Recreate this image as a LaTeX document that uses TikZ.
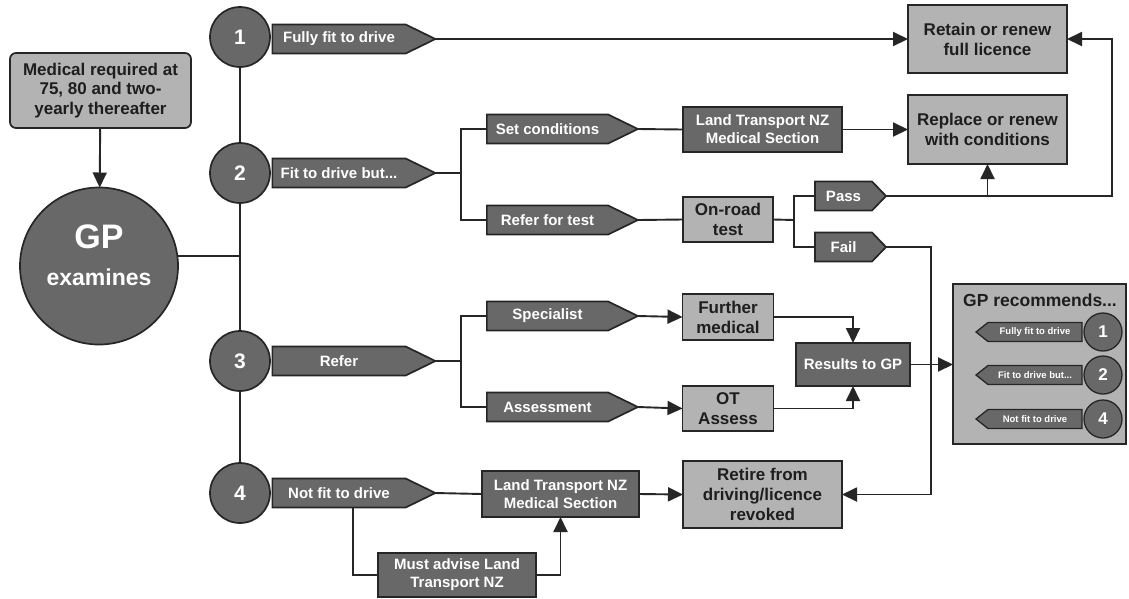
\documentclass[tikz,border=0pt]{standalone}
\usepackage{fontspec}
\setmainfont{Liberation Sans}
\usetikzlibrary{shapes.geometric,shapes.symbols,arrows.meta}
\definecolor{dkfill}{HTML}{686868}
\definecolor{ltfill}{HTML}{B3B3B3}
\definecolor{edge}{HTML}{262626}
\definecolor{ink}{HTML}{1E1E1E}
\newcommand{\fsz}[2]{\fontsize{#1}{#2}\selectfont\bfseries}
\tikzset{
  every node/.style={inner sep=0pt, outer sep=0pt},
  wire/.style={draw=edge, line width=1.9pt},
  arr/.style={wire, -{Triangle[length=15pt,width=14pt]}},
  darkbox/.style={rectangle, draw=edge, line width=1.7pt, fill=dkfill, text=white, align=center, font=\fsz{15}{18}},
  lightbox/.style={rectangle, draw=edge, line width=1.7pt, fill=ltfill, text=ink, align=center, font=\fsz{17}{20}},
  numdisc/.style={circle, draw=edge, line width=1.7pt, fill=dkfill, text=white, minimum size=60pt, font=\fsz{21}{24}},
  tagshape/.style={signal, signal to=east, draw=edge, line width=1.7pt, fill=dkfill, text=white, font=\fsz{15}{18}, minimum height=29pt},
  longtag/.style={tagshape, signal pointer angle=52, minimum width=163pt},
  midtag/.style={tagshape, signal pointer angle=52, minimum width=151pt},
  shorttag/.style={tagshape, signal pointer angle=92, minimum width=71pt},
  minitag/.style={signal, signal to=west, draw=edge, line width=1.3pt, fill=dkfill, text=white, font=\fsz{9.5}{11}, minimum height=19pt, minimum width=106pt, signal pointer angle=77},
  minidisc/.style={circle, draw=edge, line width=1.3pt, fill=dkfill, text=white, minimum size=38pt, font=\fsz{17}{20}},
}
\begin{document}
\begin{tikzpicture}[x=1pt,y=-1pt]
\useasboundingbox (0,0) rectangle (1129,598);
\fill[white] (0,0) rectangle (1129,598);

% entry point
\node[lightbox, rounded corners=6pt, minimum width=181pt, minimum height=75pt, font=\fsz{17}{19.5}] (med) at (100.5,90.5) {Medical required at\\75, 80 and two-\\yearly thereafter};
\node[ellipse, draw=edge, line width=1.7pt, fill=dkfill, minimum width=158pt, minimum height=157pt] (gp) at (99,266) {};
\node[text=white, font=\fsz{34}{36}] (gpa) at (99,237) {GP};
\node[text=white, font=\fsz{23}{26}] (gpb) at (99,277) {examines};

% outcome discs
\node[numdisc] (c1) at (240,37) {1};
\node[numdisc] (c2) at (240,173) {2};
\node[numdisc] (c3) at (240,361) {3};
\node[numdisc] (c4) at (240,493) {4};

% outcome tags
\node[longtag] (t1) at (339,39) {Fully fit to drive};
\node[longtag] (t2) at (339,173) {Fit to drive but...};
\node[longtag] (t3) at (339,361) {Refer};
\node[longtag] (t4) at (339,493) {Not fit to drive};

% second level tags
\node[midtag] (setc) at (547.5,129) {Set conditions};
\node[midtag] (rft) at (547.5,220) {Refer for test};
\node[midtag] (spec) at (547.5,316) {Specialist};
\node[midtag] (asmt) at (547.5,407) {Assessment};
\node[shorttag] (pass) at (843.5,196) {Pass};
\node[shorttag] (fail) at (843.5,247) {Fail};

% boxes
\node[lightbox, minimum width=159pt, minimum height=68pt] (retain) at (987.5,39) {Retain or renew\\full licence};
\node[lightbox, minimum width=159pt, minimum height=69pt] (replace) at (987.5,129.5) {Replace or renew\\with conditions};
\node[darkbox, minimum width=159pt, minimum height=45pt] (lt1) at (762.5,129.5) {Land Transport NZ\\Medical Section};
\node[lightbox, minimum width=90pt, minimum height=45pt] (road) at (728,219.5) {On-road\\test};
\node[lightbox, minimum width=91pt, minimum height=46pt] (furth) at (728,317) {Further\\medical};
\node[lightbox, minimum width=91pt, minimum height=45pt] (ot) at (728,408.5) {OT\\Assess};
\node[darkbox, minimum width=114pt, minimum height=43pt] (res) at (853,364.5) {Results to GP};
\node[lightbox, minimum width=159pt, minimum height=67pt] (retire) at (762.5,494.5) {Retire from\\driving/licence\\revoked};
\node[darkbox, minimum width=157pt, minimum height=46pt] (lt2) at (560.5,494) {Land Transport NZ\\Medical Section};
\node[darkbox, minimum width=158pt, minimum height=44pt] (must) at (457,575) {Must advise Land\\Transport NZ};

% recommendation panel
\node[rectangle, draw=edge, line width=1.7pt, fill=ltfill, minimum width=173pt, minimum height=160pt] (rec) at (1039.5,364) {};
\node[text=ink, font=\fsz{17.5}{20}] (rect) at (1040,300) {GP recommends...};
\node[minitag] (m1) at (1035,332) {Fully fit to drive};
\node[minitag] (m2) at (1035,375) {Fit to drive but...};
\node[minitag] (m4) at (1035,419) {Not fit to drive};
\node[minidisc] (d1) at (1103,332) {1};
\node[minidisc] (d2) at (1103,375) {2};
\node[minidisc] (d4) at (1103,419) {4};

% junction points
\coordinate (j2) at (461,173);
\coordinate (j3) at (461,361);
\coordinate (jr) at (794,220);
\coordinate (rx) at (1112,0);
\coordinate (fx) at (931,0);
\coordinate (nb) at (353,507.5);

% connectors
\draw[arr] (med) -- (gp);
\draw[wire] (gp.7) -- (gp.7 -| c1);
\draw[wire] (c1) -- (c2);
\draw[wire] (c2) -- (c3);
\draw[wire] (c3) -- (c4);

\draw[arr] (t1.east) -- (retain.west);

\draw[wire] (t2.east) -- (j2);
\draw[wire] (setc.west) -| (j2) |- (rft.west);
\draw[wire] (setc.east) -- (lt1.west);
\draw[arr] (lt1.east) -- (replace.west);
\draw[wire] (rft.east) -- (road.west);
\draw[wire] (road.east) -- (jr);
\draw[wire] (pass.west) -| (jr) |- (fail.west);
\draw[arr] (pass.east) -- (pass.east -| rx) |- (retain.east);
\draw[arr] (pass.east -| replace.south) -- (replace.south);
\draw[arr] (fail.east) -- (fail.east -| fx) |- (retire.east);

\draw[wire] (t3.east) -- (j3);
\draw[wire] (spec.west) -| (j3) |- (asmt.west);
\draw[arr] (spec.east) -- (furth.west);
\draw[arr] (asmt.east) -- (ot.west);
\draw[arr] (furth.east) -| (res.north);
\draw[arr] (ot.east) -| (res.south);
\draw[arr] (res.east) -- (rec.west |- res.east);

\draw[wire] (t4.east) -- (lt2.west);
\draw[arr] (lt2.east) -- (retire.west);
\draw[wire] (nb) |- (must.west);
\draw[arr] (must.east) -| (lt2.south);
\end{tikzpicture}
\end{document}
